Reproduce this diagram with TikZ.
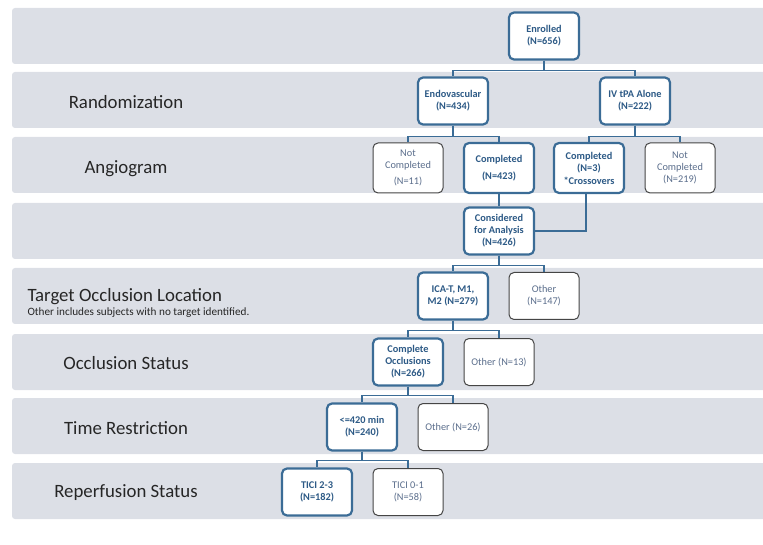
\documentclass[tikz,border=0pt]{standalone}
\usepackage{fontspec}
\setmainfont{Carlito}
\usepackage{tikz}
\usetikzlibrary{positioning}

\definecolor{bandgray}{HTML}{DCDFE6}
\definecolor{boxblue}{HTML}{3B6C96}
\definecolor{txtblue}{HTML}{2D5A86}
\definecolor{boxgray}{HTML}{454545}
\definecolor{txtgray}{HTML}{5B6E8C}

\begin{document}
\begin{tikzpicture}  [
        x = 1pt, y = -1pt,
        band/.style = {fill=bandgray, rounded corners=3pt},
        stage/.style = {font=\fontsize{18.8}{21}\selectfont, text=black!85},
        box/.style = {rounded corners=5pt, fill=white, align=center,
                      minimum width=70pt, minimum height=47pt, inner sep=1pt,
                      font=\fontsize{10.3}{12}\selectfont},
        bluebox/.style = {box, draw=boxblue, line width=2.2pt, text=txtblue,
                          font=\fontsize{10.3}{12}\selectfont\bfseries},
        graybox/.style = {box, draw=boxgray, line width=1pt, text=txtgray},
        link/.style = {draw=boxblue, line width=1.5pt}
    ]

    \useasboundingbox (0,0) rectangle (763,545);

    % stage bands
    \foreach \t in {8,72,137,203,268,334,398,463}
        \fill[band] (12,\t) rectangle (775,\t+56);

    % stage names
    \node[stage] (rand)  at (126,102) {Randomization};
    \node[stage] (angio) at (126,169) {Angiogram};
    \node[stage, anchor=west] (target) at (24,297) {Target Occlusion Location};
    \node[anchor=west, font=\fontsize{11.2}{13}\selectfont, text=black!85]
        (note) at (24,313) {Other includes subjects with no target identified.};
    \node[stage] (occl)  at (126,363) {Occlusion Status};
    \node[stage] (time)  at (126,428) {Time Restriction};
    \node[stage] (reper) at (126,493) {Reperfusion Status};

    % flow boxes
    \node[bluebox] (enrolled) at (544,36) {Enrolled\\(N=656)};
    \node[bluebox] (endo)     at (453,101) {Endovascular\\(N=434)};
    \node[bluebox] (ivtpa)    at (635,101) {IV tPA Alone\\(N=222)};

    \node[graybox, minimum height=50pt] (notcompA) at (408,168) {Not\\Completed\\[4pt](N=11)};
    \node[bluebox, minimum height=50pt] (compA)    at (499,168) {Completed\\[5pt](N=423)};
    \node[bluebox, minimum height=50pt] (compB)    at (589,168) {Completed\\(N=3)\\[1pt]*Crossovers};
    \node[graybox, minimum height=50pt] (notcompB) at (680,168) {Not\\Completed\\(N=219)};

    \node[bluebox] (considered) at (499,231) {Considered\\for Analysis\\(N=426)};

    \node[bluebox] (ica)      at (453,296) {ICA-T, M1,\\M2 (N=279)};
    \node[graybox] (other147) at (544,296) {Other\\(N=147)};

    \node[bluebox] (complete) at (408,362) {Complete\\Occlusions\\(N=266)};
    \node[graybox] (other13)  at (499,362) {Other (N=13)};

    \node[bluebox] (window)   at (362,427) {<=420 min\\(N=240)};
    \node[graybox] (other26)  at (453,427) {Other (N=26)};

    \node[bluebox] (tici23)   at (317,492) {TICI 2-3\\(N=182)};
    \node[graybox] (tici01)   at (408,492) {TICI 0-1\\(N=58)};

    % connectors
    \draw[link] (enrolled.south) -- ++(0,10) -| (endo.north);
    \draw[link] (enrolled.south) -- ++(0,10) -| (ivtpa.north);
    \draw[link] (endo.south) -- ++(0,11) -| (notcompA.north);
    \draw[link] (endo.south) -- ++(0,11) -| (compA.north);
    \draw[link] (ivtpa.south) -- ++(0,11) -| (compB.north);
    \draw[link] (ivtpa.south) -- ++(0,11) -| (notcompB.north);
    \draw[link] (compA.south) -- (considered.north);
    \draw[link] ([xshift=-3pt]compB.south) |- (considered.east);
    \draw[link] (considered.south) -- ++(0,10) -| (ica.north);
    \draw[link] (considered.south) -- ++(0,10) -| (other147.north);
    \draw[link] (ica.south) -- ++(0,10) -| (complete.north);
    \draw[link] (ica.south) -- ++(0,10) -| (other13.north);
    \draw[link] (complete.south) -- ++(0,9) -| (window.north);
    \draw[link] (complete.south) -- ++(0,9) -| (other26.north);
    \draw[link] (window.south) -- ++(0,9) -| (tici23.north);
    \draw[link] (window.south) -- ++(0,9) -| (tici01.north);

\end{tikzpicture}
\end{document}
